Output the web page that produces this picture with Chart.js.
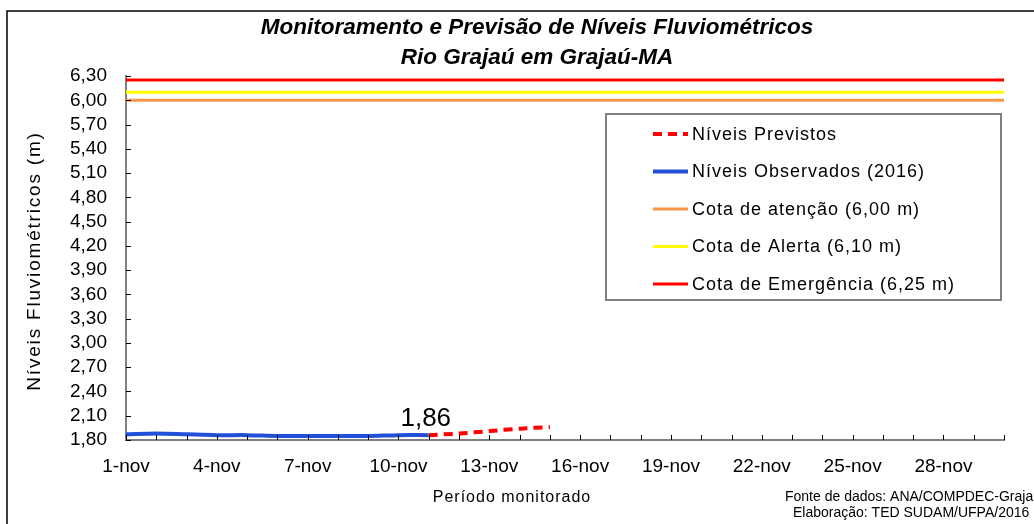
<!DOCTYPE html>
<html>
<head>
<meta charset="utf-8">
<script src="https://cdn.jsdelivr.net/npm/chart.js@4.4.0/dist/chart.umd.min.js"></script>
<style>
  html, body { margin: 0; padding: 0; background: #fff; }
</style>
</head>
<body>
<canvas id="grafico" width="1034" height="524"></canvas>
<script>
// Dados
const dias = ['1-nov', '2-nov', '3-nov', '4-nov', '5-nov', '6-nov', '7-nov', '8-nov', '9-nov', '10-nov',
  '11-nov', '12-nov', '13-nov', '14-nov', '15-nov', '16-nov', '17-nov', '18-nov', '19-nov', '20-nov',
  '21-nov', '22-nov', '23-nov', '24-nov', '25-nov', '26-nov', '27-nov', '28-nov', '29-nov', '30-nov'];
const observados = [1.87, 1.88, 1.87, 1.86, 1.86, 1.85, 1.85, 1.85, 1.85, 1.86, 1.86];
const previstos = [null, null, null, null, null, null, null, null, null, null, 1.86, 1.88, 1.91, 1.94, 1.96];
const cotaAtencao = 6.00;
const cotaAlerta = 6.10;
const cotaEmergencia = 6.25;
const yTicks = [1.80, 2.10, 2.40, 2.70, 3.00, 3.30, 3.60, 3.90, 4.20, 4.50, 4.80, 5.10, 5.40, 5.70, 6.00, 6.30];

const FONTE = "'Liberation Sans', Arial, sans-serif";
Chart.defaults.font.family = FONTE;
Chart.defaults.color = '#000';

const virgula = v => v.toFixed(2).replace('.', ',');

// Legenda, moldura, títulos dos eixos, marcas internas, rótulo e rodapé
const extras = {
  id: 'extras',
  beforeDraw(chart) {
    const ctx = chart.ctx;
    ctx.save();
    ctx.fillStyle = '#fff';
    ctx.fillRect(0, 0, chart.width, chart.height);
    ctx.strokeStyle = '#000';
    ctx.lineWidth = 1.5;
    ctx.strokeRect(7, 11, 1100, 600);
    ctx.restore();
  },
  afterDatasetsDraw(chart) {
    const ctx = chart.ctx;
    const area = chart.chartArea;
    const x = chart.scales.x, y = chart.scales.y;
    ctx.save();

    // marcas internas dos eixos
    ctx.strokeStyle = '#000';
    ctx.lineWidth = 1;
    ctx.beginPath();
    y.ticks.forEach(t => {
      const py = Math.round(y.getPixelForValue(t.value)) + 0.5;
      ctx.moveTo(area.left, py);
      ctx.lineTo(area.left + 5, py);
    });
    x.ticks.forEach((t, i) => {
      const px = Math.round(x.getPixelForTick(i)) + 0.5;
      ctx.moveTo(px, area.bottom);
      ctx.lineTo(px, area.bottom - 5);
    });
    ctx.stroke();

    // rótulo do último nível observado
    const meta = chart.getDatasetMeta(1);
    const ult = observados.length - 1;
    const pt = meta.data[ult];
    ctx.font = '26px ' + FONTE;
    ctx.fillStyle = '#000';
    ctx.textAlign = 'center';
    ctx.textBaseline = 'alphabetic';
    ctx.fillText(virgula(observados[ult]), pt.x - 3, pt.y - 9);

    // títulos dos eixos
    ctx.textBaseline = 'middle';
    ctx.font = '16px ' + FONTE;
    ctx.letterSpacing = '1px';
    ctx.fillText('Período monitorado', 512, 498);
    ctx.save();
    ctx.translate(35, 261);
    ctx.rotate(-Math.PI / 2);
    ctx.font = '19px ' + FONTE;
    ctx.letterSpacing = '1.8px';
    ctx.fillText('Níveis Fluviométricos (m)', 0, 0);
    ctx.restore();

    // legenda
    ctx.fillStyle = '#fff';
    ctx.fillRect(606, 114, 395, 186);
    ctx.strokeStyle = '#7f7f7f';
    ctx.lineWidth = 2;
    ctx.strokeRect(606, 114, 395, 186);
    ctx.font = '18px ' + FONTE;
    ctx.letterSpacing = '1px';
    ctx.textAlign = 'left';
    chart.data.datasets.forEach((ds, i) => {
      const ly = 134 + i * 37.5;
      ctx.strokeStyle = ds.borderColor;
      ctx.lineWidth = ds.borderWidth;
      ctx.setLineDash(ds.borderDash || []);
      ctx.beginPath();
      ctx.moveTo(653, ly);
      ctx.lineTo(688, ly);
      ctx.stroke();
      ctx.setLineDash([]);
      ctx.fillStyle = '#000';
      ctx.fillText(ds.label, 692, ly + 1);
    });

    // rodapé
    ctx.font = '14px ' + FONTE;
    ctx.letterSpacing = '0px';
    ctx.fillText('Fonte de dados: ANA/COMPDEC-Grajaú', 785, 497);
    ctx.fillText('Elaboração: TED SUDAM/UFPA/2016', 793, 513);
    ctx.restore();
  }
};

new Chart(document.getElementById('grafico'), {
  type: 'line',
  data: {
    labels: dias,
    datasets: [
      {
        label: 'Níveis Previstos',
        data: previstos,
        borderColor: '#FF0000',
        borderWidth: 4,
        borderDash: [9, 6],
        pointRadius: 0,
        tension: 0.2,
      },
      {
        label: 'Níveis Observados (2016)',
        data: observados,
        borderColor: '#2250D8',
        borderWidth: 4,
        pointRadius: 0,
        tension: 0.3,
      },
      {
        label: 'Cota de atenção (6,00 m)',
        data: dias.map(() => cotaAtencao),
        borderColor: '#F79646',
        borderWidth: 3,
        pointRadius: 0,
      },
      {
        label: 'Cota de Alerta (6,10 m)',
        data: dias.map(() => cotaAlerta),
        borderColor: '#FFFF00',
        borderWidth: 3,
        pointRadius: 0,
      },
      {
        label: 'Cota de Emergência (6,25 m)',
        data: dias.map(() => cotaEmergencia),
        borderColor: '#FF0000',
        borderWidth: 3,
        pointRadius: 0,
      }
    ]
  },
  options: {
    responsive: false,
    animation: false,
    layout: { padding: { left: 70, right: 30, top: 13, bottom: 0 } },
    plugins: {
      legend: { display: false },
      tooltip: { enabled: false },
      title: {
        display: true,
        text: ['Monitoramento e Previsão de Níveis Fluviométricos', 'Rio Grajaú em Grajaú-MA'],
        color: '#000',
        font: { size: 22.5, weight: 'bold', style: 'italic', lineHeight: 30 / 22.5 },
        padding: { top: 0, bottom: 3 },
      }
    },
    scales: {
      x: {
        offset: false,
        grid: { display: false, drawTicks: false },
        border: { color: '#808080', width: 2 },
        ticks: {
          autoSkip: false,
          maxRotation: 0,
          padding: 15,
          font: { size: 19 },
          color: '#000',
          callback: function (v, i) { return i % 3 === 0 ? this.getLabelForValue(v) : ''; },
        },
        afterFit: s => { s.height = 84; },
      },
      y: {
        min: 1.8,
        max: 6.3,
        afterBuildTicks: s => { s.ticks = yTicks.map(v => ({ value: v })); },
        grid: { display: false, drawTicks: false },
        border: { color: '#808080', width: 2 },
        ticks: {
          autoSkip: false,
          padding: 19,
          font: { size: 19 },
          color: '#000',
          callback: v => virgula(v),
        },
        afterFit: s => { s.width = 56; },
      }
    }
  },
  plugins: [extras]
});
</script>
</body>
</html>
